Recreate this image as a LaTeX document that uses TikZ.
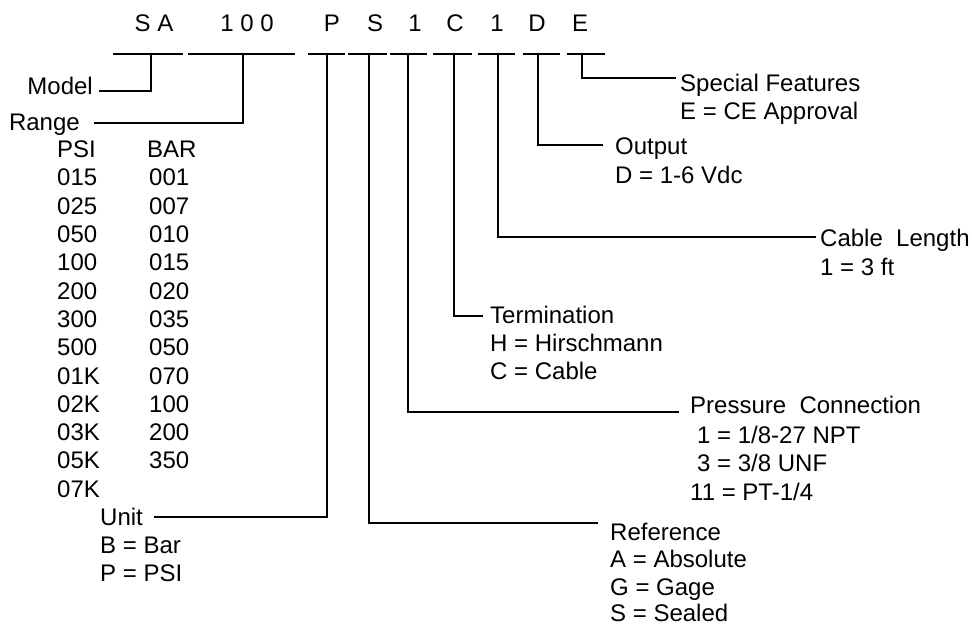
\documentclass[tikz,border=0pt]{standalone}
\usepackage{fontspec}
\setmainfont{Liberation Sans}
\begin{document}
\begin{tikzpicture}[x=1pt,y=-1pt,
  txt/.style={inner sep=0pt, font=\fontsize{24}{28}\selectfont, anchor=base west},
  txtr/.style={txt, anchor=base east},
  code/.style={inner sep=0pt, font=\fontsize{24}{28}\selectfont, anchor=base},
  seg/.style={line width=2pt},
  conn/.style={line width=2pt, line cap=rect}]
\useasboundingbox (0,0) rectangle (972,624);

% code letters
\node[code] (cSA) at (154,31.6) {S A};
\node[code] (c100) at (247,31.6) {1 0 0};
\node[code] (cP) at (332,31.6) {P};
\node[code] (cS) at (375,31.6) {S};
\node[code] (c1) at (415,31.6) {1};
\node[code] (cC) at (455,31.6) {C};
\node[code] (c1b) at (497,31.6) {1};
\node[code] (cD) at (537,31.6) {D};
\node[code] (cE) at (580,31.6) {E};

% segments
\foreach \n/\a/\b in {M/113/183, R/188/295, P/308/345, S/348/387, I/390/427, C/433/472, L/478/515, D/523/560, E/567/605}{
  \coordinate (sa\n) at (\a,54);
  \coordinate (sb\n) at (\b,54);
  \draw[seg] (sa\n) -- (sb\n);
}

% vertical tops
\coordinate (vM) at (151,54);
\coordinate (vR) at (243,54);
\coordinate (vP) at (327,54);
\coordinate (vS) at (369,54);
\coordinate (vI) at (408,54);
\coordinate (vC) at (454,54);
\coordinate (vL) at (498,54);
\coordinate (vD) at (538,54);
\coordinate (vE) at (582,54);

% line ends
\coordinate (eM) at (100,91);
\coordinate (eR) at (95,123);
\coordinate (eP) at (155,517);
\coordinate (eS) at (597,523);
\coordinate (eI) at (678,412);
\coordinate (eC) at (482,316);
\coordinate (eL) at (815,237);
\coordinate (eD) at (602,145);
\coordinate (eE) at (675,78);

\draw[conn] (vM) |- (eM);
\draw[conn] (vR) |- (eR);
\draw[conn] (vP) |- (eP);
\draw[conn] (vS) |- (eS);
\draw[conn] (vI) |- (eI);
\draw[conn] (vC) |- (eC);
\draw[conn] (vL) |- (eL);
\draw[conn] (vD) |- (eD);
\draw[conn] (vE) |- (eE);

% labels
\node[txtr] (model) at (93,94.6) {Model};
\node[txtr] (range) at (80,130.6) {Range};

\node[txt] (psi) at (57,157.6) {PSI};
\node[txt] (bar) at (147,157.6) {BAR};
\foreach \i/\p/\b in {1/015/001, 2/025/007, 3/050/010, 4/100/015, 5/200/020, 6/300/035, 7/500/050, 8/01K/070, 9/02K/100, 10/03K/200, 11/05K/350}{
  \node[txt] (p\i) at (57,157.6+28.3*\i) {\p};
  \node[txt] (b\i) at (149,157.6+28.3*\i) {\b};
}
\node[txt] (p12) at (57,157.6+28.3*12) {07K};

\node[txt] (unit) at (100,525.6) {Unit};
\node[txt] (unitB) at (100,553.6) {B = Bar};
\node[txt] (unitP) at (100,581.6) {P = PSI};

\node[txt] (ref) at (610,540.0) {Reference};
\node[txt] (refA) at (610,567.5) {A = Absolute};
\node[txt] (refG) at (610,595.0) {G = Gage};
\node[txt] (refS) at (610,621.5) {S = Sealed};

\node[txt] (pc) at (690,413.6) {Pressure\ \ Connection};
\node[txt] (pc1) at (697,443.6) {1 = 1/8-27 NPT};
\node[txt] (pc3) at (697,471.6) {3 = 3/8 UNF};
\node[txt] (pc11) at (690,500.6) {11 = PT-1/4};

\node[txt] (term) at (490,323.6) {Termination};
\node[txt] (termH) at (490,351.6) {H = Hirschmann};
\node[txt] (termC) at (490,379.6) {C = Cable};

\node[txt] (cab) at (820,246.6) {Cable\ \ Length};
\node[txt] (cab1) at (820,275.6) {1 = 3 ft};

\node[txt] (out) at (615,154.6) {Output};
\node[txt] (outD) at (615,183.6) {D = 1-6 Vdc};

\node[txt] (spec) at (680,91.6) {Special Features};
\node[txt] (specE) at (680,119.6) {E = CE Approval};
\end{tikzpicture}
\end{document}
